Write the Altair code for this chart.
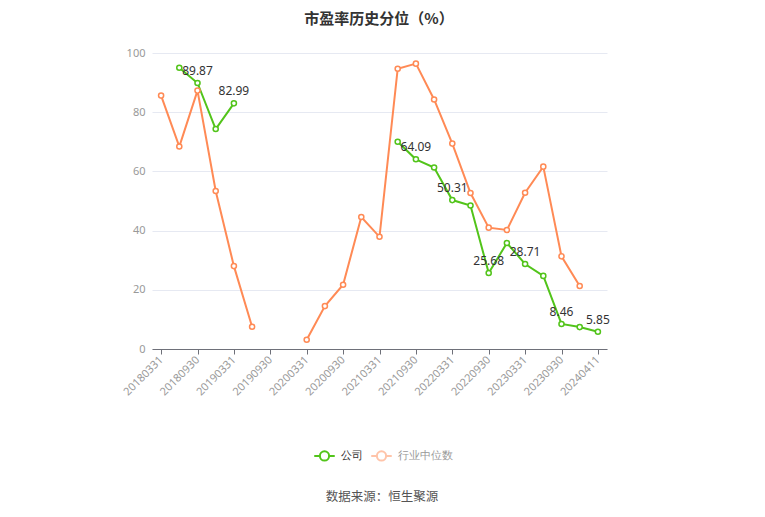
import altair as alt
import pandas as pd
import numpy as np

categories = [
    "20180331", "20180630", "20180930", "20181231",
    "20190331", "20190630", "20190930", "20191231",
    "20200331", "20200630", "20200930", "20201231",
    "20210331", "20210630", "20210930", "20211231",
    "20220331", "20220630", "20220930", "20221231",
    "20230331", "20230630", "20230930", "20231231",
    "20240411",
]
company = [
    None, 95.0, 89.87, 74.3,
    82.99, None, None, None,
    None, None, None, None,
    None, 70.0, 64.09, 61.3,
    50.31, 48.5, 25.68, 35.8,
    28.71, 24.7, 8.46, 7.4,
    5.85,
]
industry = [
    85.6, 68.4, 87.3, 53.4,
    28.0, 7.5, None, None,
    3.1, 14.5, 21.7, 44.6,
    37.9, 94.7, 96.4, 84.3,
    69.4, 52.7, 41.0, 40.2,
    52.8, 61.6, 31.3, 21.3,
    None,
]
labeled_company = ["20180930", "20190331", "20210930", "20220331",
                   "20220930", "20230331", "20230930", "20240411"]
tick_labels = categories[::2]
series_names = ["公司", "行业中位数"]
colors = ["#52c41a", "#ff8a55"]
title_text = "市盈率历史分位（%）"
source_text = "数据来源：恒生聚源"

rows = []
for name, vals in zip(series_names, [company, industry]):
    seg = 0
    prev_null = True
    for c, v in zip(categories, vals):
        if v is None:
            prev_null = True
            continue
        if prev_null:
            seg += 1
            prev_null = False
        lab = f"{v:.2f}" if (name == "公司" and c in labeled_company) else ""
        rows.append({"cat": c, "series": name, "value": v, "seg": f"{name}{seg}", "label": lab})
df = pd.DataFrame(rows)

x_enc = alt.X(
    "cat:N",
    sort=categories,
    scale=alt.Scale(type="point", domain=categories, padding=0.5),
    axis=alt.Axis(
        title=None, values=tick_labels, labelAngle=-45, labelAlign="right",
        labelBaseline="middle", labelColor="#999999", labelFontSize=11,
        labelFont="Noto Sans", domainColor="#6e7079", tickColor="#6e7079",
        tickSize=5, labelPadding=4, grid=False,
    ),
)
y_enc = alt.Y(
    "value:Q",
    scale=alt.Scale(domain=[0, 100]),
    axis=alt.Axis(
        title=None, values=[0, 20, 40, 60, 80, 100], labelColor="#999999",
        labelFontSize=11, labelFont="Noto Sans", domain=False, ticks=False,
        gridColor="#e6e9f2", labelPadding=7,
    ),
)
color_enc = alt.Color(
    "series:N",
    scale=alt.Scale(domain=series_names, range=colors),
    legend=alt.Legend(
        title=None, orient="none", direction="horizontal",
        legendX=161, legendY=391, padding=0,
        symbolType="M-1,0H-0.45M0.45,0H1M0.45,0A0.45,0.45 0 1 1 -0.45,0A0.45,0.45 0 1 1 0.45,0",
        symbolSize=420, symbolStrokeWidth=2, symbolFillColor="white",
        symbolOpacity=alt.ExprRef("datum.value == '公司' ? 1 : 0.5"),
        labelFontSize=11, labelFont="Noto Sans",
        labelColor=alt.ExprRef("datum.value == '公司' ? '#333333' : '#999999'"),
        labelOffset=5, columnPadding=4,
    ),
)

base = alt.Chart(df)
lines = base.mark_line(strokeWidth=2).encode(
    x=x_enc, y=y_enc, color=color_enc, detail="seg:N"
)
points = base.mark_point(filled=False, fill="white", size=26, strokeWidth=1.5, opacity=1).encode(
    x=x_enc, y=y_enc, color=alt.Color("series:N", scale=alt.Scale(domain=series_names, range=colors), legend=None)
)
labels = base.transform_filter("datum.label != ''").mark_text(
    dy=-12, fontSize=12, color="#333333", font="Noto Sans"
).encode(x=x_enc, y=y_enc, text="label:N")

title = alt.Chart(pd.DataFrame({"t": [title_text]})).mark_text(
    fontSize=15, fontWeight="bold", color="#333333", font="Noto Sans CJK SC",
    baseline="middle",
).encode(text="t:N", x=alt.value(227), y=alt.value(-34))

source = alt.Chart(pd.DataFrame({"t": [source_text]})).mark_text(
    fontSize=12.5, color="#555555", font="Noto Sans CJK SC", baseline="middle",
).encode(text="t:N", x=alt.value(230), y=alt.value(444))

chart = alt.layer(lines, points, labels, title, source).properties(
    width=455, height=296,
    autosize="none",
    padding={"left": 144, "top": 45, "right": 150, "bottom": 165},
).configure_view(stroke=None)

chart.save("out.html", embed_options={"renderer": "svg", "actions": False})
